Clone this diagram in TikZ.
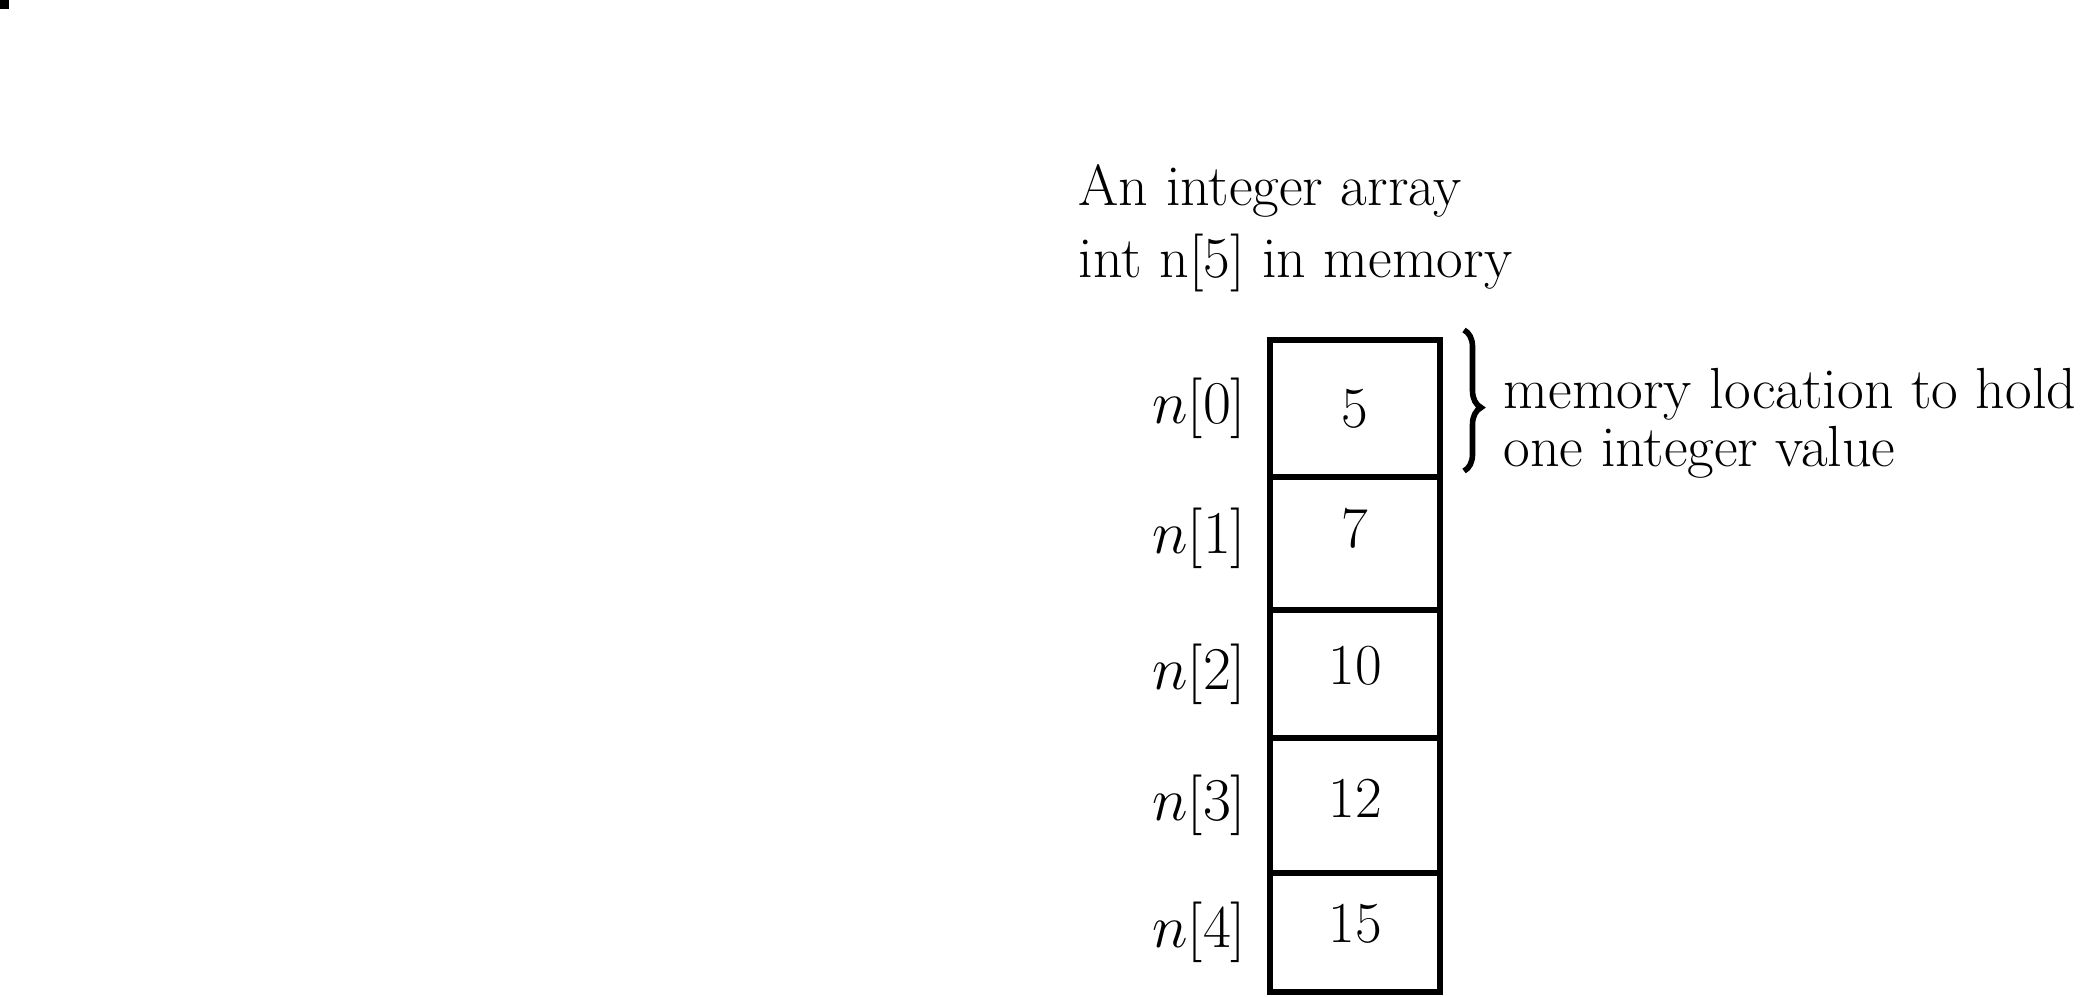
\documentclass[tikz,border=0pt]{standalone}
\usepackage{amsmath,amssymb}
\usepackage{xcolor}
\usepackage{tikz}
\usetikzlibrary{decorations.pathreplacing,positioning}
\definecolor{figline}{RGB}{0,0,0}
\tikzset{
  cell/.style ={draw=figline, line width=1.8pt, minimum width=1.70cm, inner sep=0pt},
  val/.style  ={font=\fontsize{16.5}{18}\selectfont, inner sep=0pt},
  idx/.style  ={font=\fontsize{16.5}{18}\selectfont, inner sep=0pt},
  txt/.style  ={font=\fontsize{16.5}{20.5}\selectfont, inner sep=0pt, align=left},
  txts/.style ={font=\fontsize{16.5}{16.5}\selectfont, inner sep=0pt, align=left},
  brc/.style  ={draw=figline, line width=1.6pt, decorate, decoration={brace, amplitude=0.17cm, aspect=0.55}},
}

\begin{document}
\begin{tikzpicture}[scale=1]
  \useasboundingbox (0,0) rectangle (20.85,-9.96);
  \fill[figline] (0,0) rectangle (0.09,-0.09);
  \node[txt,anchor=north west] (title) at (10.78,-1.64) {An integer array\\ int n[5] in memory};
  % the array cells
  \node[cell,minimum height=1.37cm] (c0) at (13.55,-4.085) {};
  \node[cell,minimum height=1.33cm] (c1) at (13.55,-5.435) {};
  \node[cell,minimum height=1.28cm] (c2) at (13.55,-6.74) {};
  \node[cell,minimum height=1.35cm] (c3) at (13.55,-8.055) {};
  \node[cell,minimum height=1.19cm] (c4) at (13.55,-9.325) {};
  \node[val] (v0) at (c0) {5};
  \node[val,yshift=0.15cm] (v1) at (c1) {7};
  \node[val,yshift=0.08cm] (v2) at (c2) {10};
  \node[val,yshift=0.07cm] (v3) at (c3) {12};
  \node[val,yshift=0.09cm] (v4) at (c4) {15};
  \node[idx,left=0.2cm of c0] (l0) {$n[0]$};
  \node[idx,left=0.2cm of c1,yshift=0.05cm] (l1) {$n[1]$};
  \node[idx,left=0.2cm of c2] (l2) {$n[2]$};
  \node[idx,left=0.2cm of c3] (l3) {$n[3]$};
  \node[idx,left=0.2cm of c4] (l4) {$n[4]$};
  % brace over the first cell
  \coordinate (bt) at (14.64,-3.30);
  \coordinate (bb) at (14.64,-4.71);
  \draw[brc] (bt) -- (bb);
  \node[txts,anchor=west] (note) at (15.03,-4.23) {memory location to hold\\ one integer value};
\end{tikzpicture}
\end{document}
